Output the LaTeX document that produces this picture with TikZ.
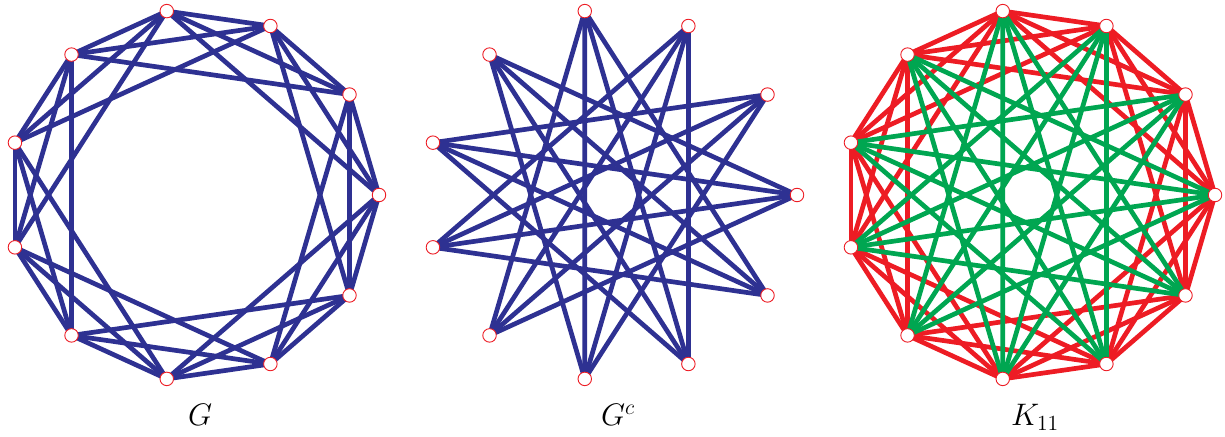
\documentclass[tikz,border=0pt]{standalone}
\usepackage{graphicx}
\usetikzlibrary{calc}
\definecolor{gblue}{RGB}{46,49,146}
\definecolor{gred}{RGB}{237,28,36}
\definecolor{ggreen}{RGB}{0,166,81}
\begin{document}
\begin{tikzpicture}[x=1pt,y=1pt,
  edge/.style={line width=4.7pt},
  vert/.style={circle,draw=gred,fill=white,line width=0.9pt,inner sep=0pt,minimum size=13.5pt},
  lab/.style={anchor=base west,inner sep=0pt,font=\huge}]
\useasboundingbox (0,0) rectangle (1225,436);
\foreach \p/\cx in {g/193.2,c/611.2,k/1029.2}{
  \foreach \k in {0,...,10}{
    \coordinate (\p\k) at ($(\cx,241)+({\k*360/11}:185.8)$);
  }
}
% G = circulant {1,2,3}
\foreach \i in {0,...,10}{
  \foreach \d in {1,2,3}{
    \pgfmathtruncatemacro\j{mod(\i+\d,11)}
    \draw[edge,gblue] (g\i) -- (g\j);
  }
}
% G^c = circulant {4,5}
\foreach \i in {0,...,10}{
  \foreach \d in {4,5}{
    \pgfmathtruncatemacro\j{mod(\i+\d,11)}
    \draw[edge,gblue] (c\i) -- (c\j);
  }
}
% K11: red = G, green = G^c
\foreach \i in {0,...,10}{
  \foreach \d in {1,2,3}{
    \pgfmathtruncatemacro\j{mod(\i+\d,11)}
    \draw[edge,gred] (k\i) -- (k\j);
  }
}
\foreach \i in {0,...,10}{
  \foreach \d in {4,5}{
    \pgfmathtruncatemacro\j{mod(\i+\d,11)}
    \draw[edge,ggreen] (k\i) -- (k\j);
  }
}
\foreach \p in {g,c,k}{
  \foreach \k in {0,...,10}{
    \node[vert] (\p v\k) at (\p\k) {};
  }
}
\node[lab] (lg) at (188,10) {\scalebox{1.5}{$G$}};
\node[lab] (lc) at (601,10) {\scalebox{1.5}{$G^c$}};
\node[lab] (lk) at (1011,10) {\scalebox{1.5}{$K_{11}$}};
\end{tikzpicture}
\end{document}
